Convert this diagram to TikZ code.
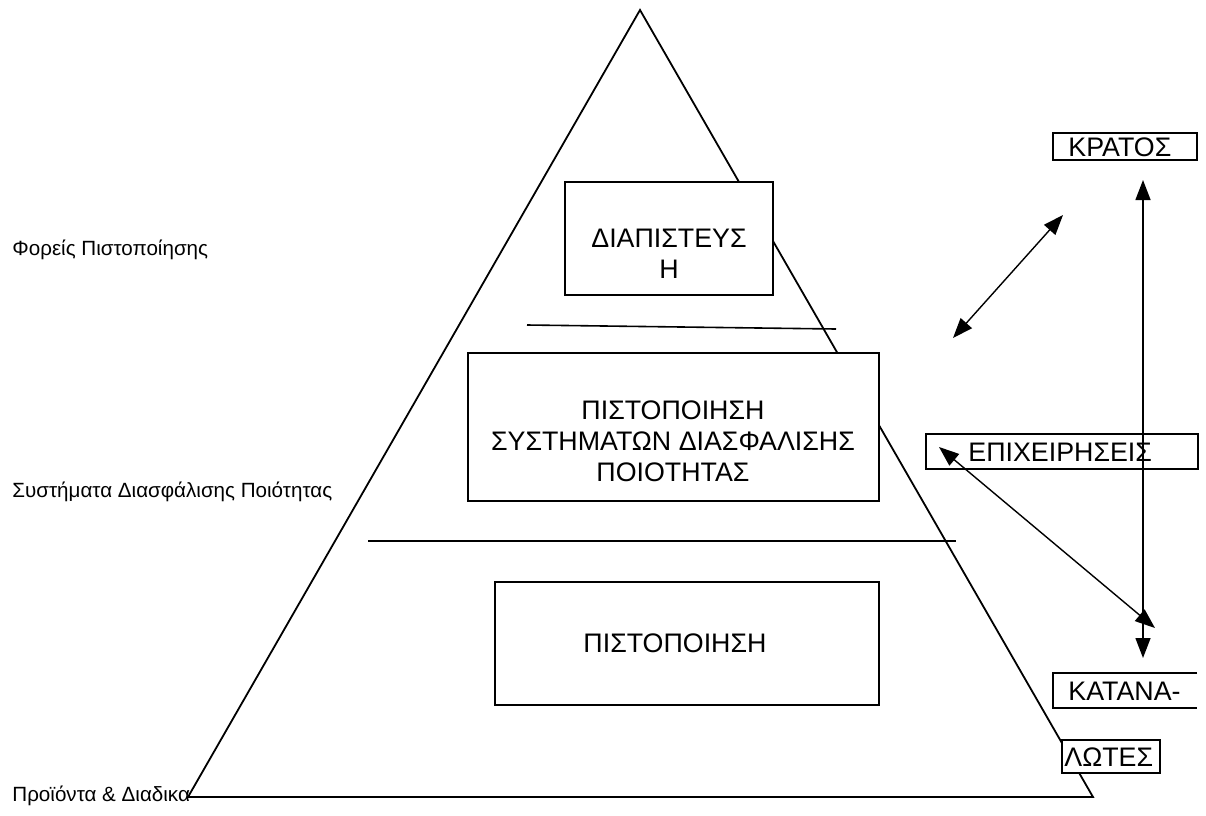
\documentclass[tikz,border=0pt]{standalone}
\usepackage{fontspec}
\setmainfont{Liberation Sans}
\usetikzlibrary{arrows.meta}
\begin{document}
\begin{tikzpicture}[x=0.5pt,y=-0.5pt,
    frame/.style={draw,fill=white,line width=0.9pt,inner sep=0pt},
    big/.style={font=\fontsize{13.4}{15.6}\selectfont,align=center},
    side/.style={font=\fontsize{10.3}{12}\selectfont,anchor=west,inner sep=0pt},
    tag/.style={font=\fontsize{13.4}{15}\selectfont,anchor=west,inner sep=0pt},
    twoway/.style={{Triangle[length=10pt,width=7.5pt]}-{Triangle[length=10pt,width=7.5pt]},line width=0.7pt}]
\useasboundingbox (0,0) rectangle (1206,815);
\coordinate (apex) at (640,10);
\coordinate (baseL) at (188,797);
\coordinate (baseR) at (1093,797);
\draw[line width=0.9pt] (apex) -- (baseL) -- (baseR) -- cycle;
\node (diapbox) [frame,minimum width=104pt,minimum height=56.5pt] at (669,238.5) {};
\node (diap) [big] at (669,254) {ΔΙΑΠΙΣΤΕΥΣ\\Η};
\coordinate (cutA) at (527,325);
\coordinate (cutB) at (836,329);
\draw[line width=0.8pt] (cutA) -- (cutB);
\node (sysbox) [frame,minimum width=205.5pt,minimum height=74pt] at (673.5,427) {};
\node (sys) [big] at (673,441) {ΠΙΣΤΟΠΟΙΗΣΗ\\ΣΥΣΤΗΜΑΤΩΝ ΔΙΑΣΦΑΛΙΣΗΣ\\ΠΟΙΟΤΗΤΑΣ};
\coordinate (cutC) at (368,541);
\coordinate (cutD) at (956,541);
\draw[line width=0.9pt] (cutC) -- (cutD);
\node (prodbox) [frame,minimum width=192pt,minimum height=61.5pt] at (687,643.5) {};
\node (prod) [big] at (675,643) {ΠΙΣΤΟΠΟΙΗΣΗ};
\node (foreis) [side] at (12,250) {Φορείς Πιστοποίησης};
\node (sda) [side] at (12,492) {Συστήματα Διασφάλισης Ποιότητας};
\node (proionta) [side] at (12,796) {Προϊόντα \& Διαδικα};
\node (kratosbox) [frame,minimum width=72pt,minimum height=13.5pt] at (1125,146.5) {};
\node (kratos) [tag] at (1068,147) {ΚΡΑΤΟΣ};
\node (epixbox) [frame,minimum width=136pt,minimum height=17.5pt] at (1062,451.5) {};
\node (epix) [tag] at (968,452) {ΕΠΙΧΕΙΡΗΣΕΙΣ};
\coordinate (katTL) at (1197,673);
\coordinate (katBL) at (1053,673);
\draw[line width=0.9pt] (katTL) -- (katBL) -- (1053,708) -- (1197,708);
\node (katana) [tag] at (1068,691) {ΚΑΤΑΝΑ-};
\node (lotesbox) [frame,minimum width=49pt,minimum height=16.5pt] at (1111,756.5) {};
\node (lotes) [tag] at (1064,757) {ΛΩΤΕΣ};
\coordinate (vTop) at (1143,180);
\coordinate (vBot) at (1143,658);
\draw[twoway] (vTop) -- (vBot);
\coordinate (dTop) at (1063,215);
\coordinate (dBot) at (953,338);
\draw[twoway] (dBot) -- (dTop);
\coordinate (eTip) at (939,447);
\coordinate (eEnd) at (1155,628);
\draw[twoway] (eTip) -- (eEnd);
\end{tikzpicture}
\end{document}
